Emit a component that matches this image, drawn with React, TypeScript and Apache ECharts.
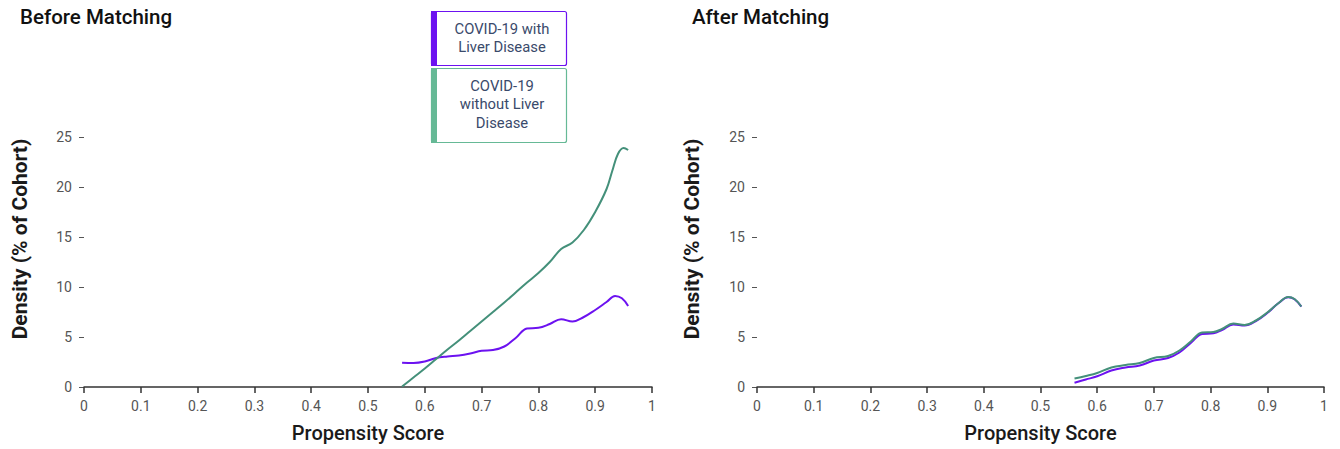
import React, { useEffect, useRef } from "react";
import * as echarts from "echarts";

// ---- Data ----
const seriesNames = ["COVID-19 with Liver Disease", "COVID-19 without Liver Disease"];
const panelTitles = ["Before Matching", "After Matching"];
const xAxisTitle = "Propensity Score";
const yAxisTitle = "Density (% of Cohort)";
const xTickValues = [0, 0.1, 0.2, 0.3, 0.4, 0.5, 0.6, 0.7, 0.8, 0.9, 1];
const yTickValues = [0, 5, 10, 15, 20, 25];

const beforeWithScore = [0.56, 0.58, 0.6, 0.62, 0.64, 0.66, 0.68, 0.7, 0.72, 0.74, 0.76, 0.78, 0.8, 0.82, 0.84, 0.86, 0.88, 0.9, 0.92, 0.935, 0.947, 0.958];
const beforeWithDensity = [2.43, 2.4, 2.55, 2.9, 3.05, 3.15, 3.35, 3.62, 3.7, 4.05, 4.9, 5.85, 5.92, 6.3, 6.78, 6.55, 7.0, 7.7, 8.5, 9.1, 8.87, 8.1];

const beforeWithoutScore = [0.56, 0.58, 0.6, 0.62, 0.64, 0.66, 0.68, 0.7, 0.72, 0.74, 0.76, 0.78, 0.8, 0.82, 0.84, 0.86, 0.88, 0.9, 0.92, 0.93, 0.94, 0.95, 0.958];
const beforeWithoutDensity = [0.05, 0.95, 1.85, 2.8, 3.75, 4.65, 5.6, 6.55, 7.5, 8.45, 9.45, 10.45, 11.4, 12.5, 13.8, 14.45, 15.7, 17.5, 19.8, 21.6, 23.3, 23.9, 23.7];

const afterScore = [0.56, 0.58, 0.6, 0.625, 0.65, 0.675, 0.7, 0.725, 0.745, 0.765, 0.785, 0.805, 0.82, 0.84, 0.86, 0.88, 0.9, 0.92, 0.937, 0.948, 0.96];
const afterWithDensity = [0.43, 0.75, 1.07, 1.65, 1.95, 2.15, 2.65, 2.9, 3.45, 4.4, 5.3, 5.37, 5.7, 6.25, 6.15, 6.6, 7.4, 8.4, 8.97, 8.77, 8.03];
const afterWithoutDensity = [0.85, 1.1, 1.4, 1.95, 2.2, 2.4, 2.9, 3.1, 3.65, 4.55, 5.45, 5.5, 5.8, 6.35, 6.2, 6.65, 7.45, 8.4, 9.0, 8.8, 8.05];

// ---- Styles ----
const PURPLE = "#6c12f0";
const GREEN_LINE = "#44907a";
const GREEN_LEGEND = "#66b996";
const FONT = "Roboto, 'Noto Sans', sans-serif";

const zip = (xs: number[], ys: number[]) => xs.map((x, i) => [x, ys[i]]);

export default function App() {
  const ref = useRef<HTMLDivElement>(null);

  useEffect(() => {
    document.body.style.margin = "0";
    if (!ref.current) return;
    const chart = echarts.init(ref.current, undefined, { renderer: "svg" });

    const grids = [
      { left: 84, top: 137, width: 568, height: 250 },
      { left: 757, top: 137, width: 567, height: 250 },
    ];

    const xAxisBase = (gridIndex: number) => ({
      type: "value",
      gridIndex,
      min: xTickValues[0],
      max: xTickValues[xTickValues.length - 1],
      interval: 0.1,
      name: xAxisTitle,
      nameLocation: "middle",
      nameGap: 36,
      nameTextStyle: { fontFamily: FONT, fontSize: 20, fontWeight: 500, color: "#1a1a1a" },
      axisLine: { show: true, lineStyle: { color: "#333", width: 1.5 } },
      axisTick: { show: true, length: 6, lineStyle: { color: "#333", width: 1.5 } },
      axisLabel: { margin: 12, fontFamily: FONT, fontSize: 14, color: "#555" },
      splitLine: { show: false },
    });

    const yAxisBase = (gridIndex: number) => ({
      type: "value",
      gridIndex,
      min: yTickValues[0],
      max: yTickValues[yTickValues.length - 1],
      interval: 5,
      axisLine: { show: false },
      axisTick: { show: true, length: 5, lineStyle: { color: "#555", width: 1 } },
      axisLabel: { margin: 12, fontFamily: FONT, fontSize: 14, color: "#555" },
      splitLine: { show: false },
    });

    const lineSeries = (name: string, data: number[][], color: string, idx: number) => ({
      type: "line",
      name,
      xAxisIndex: idx,
      yAxisIndex: idx,
      data,
      smooth: 0.4,
      symbol: "none",
      lineStyle: { color, width: 2 },
      itemStyle: { color },
    });

    const legendBox = (y: number, h: number, color: string, lines: string[]) => ({
      type: "group",
      children: [
        {
          type: "rect",
          shape: { x: 431.5, y: y + 0.5, width: 135, height: h, r: 2 },
          style: { fill: "#fff", stroke: color, lineWidth: 1.2 },
        },
        {
          type: "rect",
          shape: { x: 431, y: y, width: 6, height: h + 1 },
          style: { fill: color },
        },
        ...lines.map((t, i) => ({
          type: "text",
          x: 502,
          y: y + 17.5 + i * 18.5,
          style: {
            text: t,
            fill: "#3a4a6b",
            font: `14.8px ${FONT}`,
            textAlign: "center",
            textVerticalAlign: "middle",
          },
        })),
      ],
    });

    const yTitle = (x: number) => ({
      type: "text",
      x,
      y: 239,
      rotation: Math.PI / 2,
      style: {
        text: yAxisTitle,
        fill: "#1a1a1a",
        font: `bold 21px ${FONT}`,
        textAlign: "center",
        textVerticalAlign: "middle",
      },
    });

    chart.setOption({
      animation: false,
      backgroundColor: "#fff",
      title: [
        { text: panelTitles[0], left: 20, top: 6, padding: 0, textStyle: { fontFamily: FONT, fontSize: 20.5, fontWeight: 500, color: "#111" } },
        { text: panelTitles[1], left: 692, top: 6, padding: 0, textStyle: { fontFamily: FONT, fontSize: 20.5, fontWeight: 500, color: "#111" } },
      ],
      grid: grids,
      xAxis: [xAxisBase(0), xAxisBase(1)],
      yAxis: [yAxisBase(0), yAxisBase(1)],
      series: [
        lineSeries(seriesNames[0], zip(beforeWithScore, beforeWithDensity), PURPLE, 0),
        lineSeries(seriesNames[1], zip(beforeWithoutScore, beforeWithoutDensity), GREEN_LINE, 0),
        lineSeries(seriesNames[0], zip(afterScore, afterWithDensity), PURPLE, 1),
        lineSeries(seriesNames[1], zip(afterScore, afterWithoutDensity), GREEN_LINE, 1),
      ],
      graphic: [
        legendBox(11, 54, PURPLE, ["COVID-19 with", "Liver Disease"]),
        legendBox(68, 74, GREEN_LEGEND, ["COVID-19", "without Liver", "Disease"]),
        yTitle(20),
        yTitle(692),
      ],
    });

    return () => chart.dispose();
  }, []);

  return <div ref={ref} style={{ width: 1340, height: 449 }} />;
}
